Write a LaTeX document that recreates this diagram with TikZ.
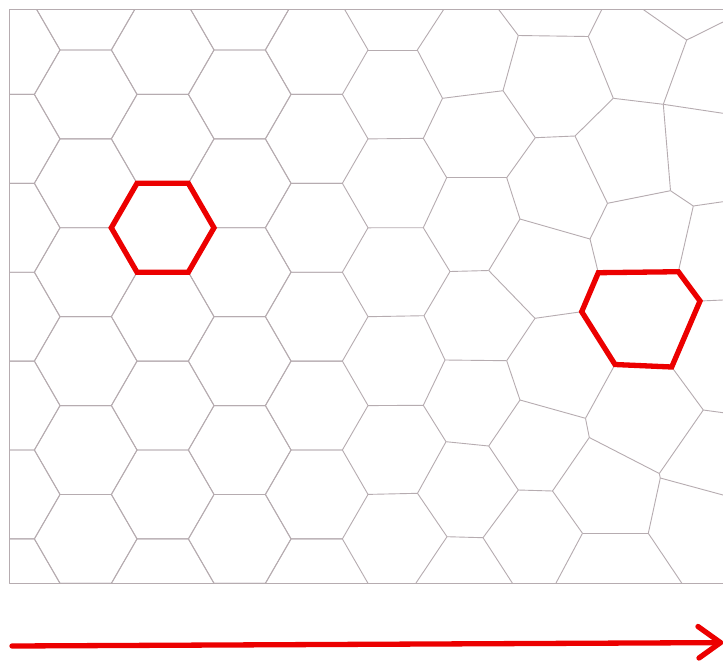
\documentclass[tikz,border=0pt]{standalone}
\definecolor{gridc}{RGB}{182,172,176}
\definecolor{redc}{RGB}{236,0,0}
\begin{document}
\begin{tikzpicture}[x=1pt,y=-1pt,
  gridline/.style={draw=gridc, line width=0.9pt, line join=round},
  redcell/.style={draw=redc, line width=5.3pt, line join=miter},
  redarrow/.style={draw=redc, line width=5.3pt, line cap=round, line join=round}]
\useasboundingbox (0,0) rectangle (723,662);
\fill[white] (0,0) rectangle (723,662);
% frame corners
\coordinate (F1) at (723,9);
\coordinate (F2) at (9,9);
\coordinate (F3) at (9,583);
\coordinate (F4) at (723,583);
\begin{scope}
\clip (9,9) rectangle (723,583);
% regular hexagonal part
\foreach \i in {-1,...,3}{
  \foreach \j in {-2,...,12}{
    \pgfmathtruncatemacro\hexpar{mod(\i+\j+20,2)}
    \ifnum\hexpar=0
      \pgfmathsetmacro\cx{85.7+77*\i}
      \pgfmathsetmacro\cy{94.4+44.45*\j}
      \draw[gridline] (\cx-51.33,\cy) -- (\cx-25.67,\cy-44.45) -- (\cx+25.67,\cy-44.45)
        -- (\cx+51.33,\cy) -- (\cx+25.67,\cy+44.45) -- (\cx-25.67,\cy+44.45) -- cycle;
    \fi
  }
}
% irregular part: vertices
\coordinate (L1) at (368,50);
\coordinate (L3) at (368,138.9);
\coordinate (L5) at (368,227.8);
\coordinate (L7) at (368,316.7);
\coordinate (L9) at (368,405.6);
\coordinate (L11) at (368,494.4);
\coordinate (t1) at (444,9);
\coordinate (t2) at (498.3,9);
\coordinate (t3) at (602,9);
\coordinate (t4) at (642.5,9);
\coordinate (r1) at (723,22);
\coordinate (r2) at (723,113.3);
\coordinate (r3) at (723,201.7);
\coordinate (r4) at (723,300);
\coordinate (r5) at (723,412.7);
\coordinate (r6) at (723,495);
\coordinate (b1) at (416,583);
\coordinate (b2) at (512.3,583);
\coordinate (b3) at (556,583);
\coordinate (b4) at (681.7,583);
\coordinate (A2) at (417.3,50);
\coordinate (A3) at (442.5,98.3);
\coordinate (A4) at (503,90.7);
\coordinate (A5) at (518.3,35.5);
\coordinate (A6) at (535.3,137.7);
\coordinate (A7) at (588.3,36.5);
\coordinate (A8) at (686.7,40);
\coordinate (A9) at (613.3,98.3);
\coordinate (A10) at (663.3,104.3);
\coordinate (A11) at (575,136);
\coordinate (A12) at (670.5,190.7);
\coordinate (A13) at (693.3,206);
\coordinate (A14) at (607.5,203.3);
\coordinate (A15) at (590,239);
\coordinate (A16) at (520,219);
\coordinate (A17) at (506.7,177.7);
\coordinate (A18) at (446.7,177.7);
\coordinate (A19) at (423.3,138.3);
\coordinate (A21) at (423.3,227.7);
\coordinate (A22) at (450,271.5);
\coordinate (A23) at (488.7,270.5);
\coordinate (A24) at (535,318.3);
\coordinate (A25) at (424,315.7);
\coordinate (A26) at (445,360);
\coordinate (A27) at (506.7,360.7);
\coordinate (A28) at (520,400);
\coordinate (A29) at (585.5,418.3);
\coordinate (A30) at (589.3,437.5);
\coordinate (A31) at (659.3,473.5);
\coordinate (A31b) at (660.3,478);
\coordinate (A32) at (703.3,410);
\coordinate (A34) at (648.3,533.3);
\coordinate (A35) at (582.5,533.3);
\coordinate (A36) at (552.5,491);
\coordinate (A38) at (518.3,490);
\coordinate (A39) at (488.7,446);
\coordinate (A40) at (446,441.7);
\coordinate (A41) at (423.3,405.3);
\coordinate (A42) at (417.5,493.3);
\coordinate (A43) at (447,536.7);
\coordinate (A44) at (483,537.7);
\coordinate (R1) at (581.7,311.7);
\coordinate (R2) at (598.3,272.7);
\coordinate (R3) at (678.3,271.7);
\coordinate (R4) at (700,301);
\coordinate (R5) at (671.7,367);
\coordinate (R6) at (615,364.5);
% irregular part: edges
\draw[gridline] (t1) -- (A2) -- (A3) -- (A19) -- (A18) -- (A21) -- (A22) -- (A25)
  -- (A26) -- (A41) -- (A40) -- (A42) -- (A43) -- (b1);
\foreach \a/\b in {L1/A2, L3/A19, L5/A21, L7/A25, L9/A41, L11/A42,
  A3/A4, A18/A17, A22/A23, A26/A27, A40/A39, A43/A44,
  A5/t2, A4/A5, A5/A7, A7/t3, A7/A9, A4/A6, A6/A11, A11/A9, A9/A10, A10/A8,
  A8/t4, A8/r1, A10/r2, A10/A12, A6/A17, A11/A14, A14/A12, A12/A13, A13/r3,
  A13/R3, A14/A15, A15/A16, A15/R2, A16/A17, A16/A23, A23/A24, A24/R1,
  A24/A27, A27/A28, A28/A29, A29/R6, A29/A30, A30/A31, A31/A32, A32/R5,
  A32/r5, A31/A31b, A31b/r6, A31b/A34, A34/b4, A34/A35, A35/b3, A35/A36,
  A36/A30, A36/A38, A38/A39, A39/A28, A38/A44, A44/b2, R4/r4}
  {\draw[gridline] (\a) -- (\b);}
\end{scope}
% frame
\draw[gridline] (F1) -- (F2) -- (F3) -- (F4);
% red cells
\coordinate (H1) at (111.3,227.8);
\coordinate (H2) at (137,183.3);
\coordinate (H3) at (188.3,183.3);
\coordinate (H4) at (214,227.8);
\coordinate (H5) at (188.3,272.2);
\coordinate (H6) at (137,272.2);
\draw[redcell] (H1) -- (H2) -- (H3) -- (H4) -- (H5) -- (H6) -- cycle;
\draw[redcell] (R1) -- (R2) -- (R3) -- (R4) -- (R5) -- (R6) -- cycle;
% arrow
\coordinate (S) at (12,646);
\coordinate (T) at (720.5,642.6);
\coordinate (U1) at (698,626.5);
\coordinate (U2) at (699,658);
\draw[redarrow] (S) -- (T);
\draw[redarrow] (U1) -- (T) -- (U2);
\end{tikzpicture}
\end{document}
